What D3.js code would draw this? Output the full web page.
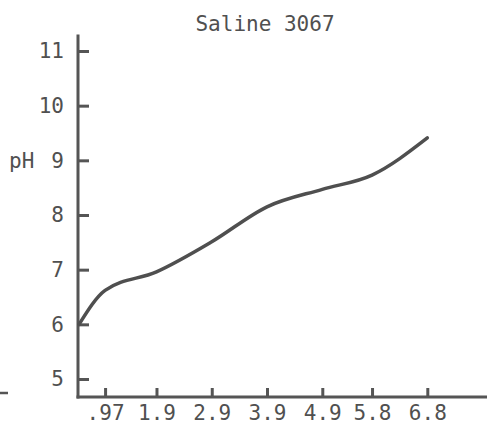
<!DOCTYPE html>
<html>
<head>
<meta charset="utf-8">
<script src="https://cdn.jsdelivr.net/npm/d3@7"></script>
<style>
  html, body { margin: 0; padding: 0; background: #ffffff; }
  svg { display: block; }
  text { font-family: "DejaVu Sans Mono", monospace; fill: #505050; }
</style>
</head>
<body>
<svg id="chart" width="487" height="429"></svg>
<script>
// Titration curve: pH against volume added
const title = "Saline 3067";
const volume = [0.5, 0.97, 1.9, 2.9, 3.9, 4.9, 5.8, 6.8];
const pH = [6.0, 6.62, 6.96, 7.51, 8.15, 8.47, 8.73, 9.41];
const xTicks = [0.97, 1.9, 2.9, 3.9, 4.9, 5.8, 6.8];
const xTickLabels = [".97", "1.9", "2.9", "3.9", "4.9", "5.8", "6.8"];
const yTicks = [5, 6, 7, 8, 9, 10, 11];

const svg = d3.select("#chart");
const ink = "#555555";
const font = "'DejaVu Sans Mono', monospace";

const x = d3.scaleLinear().domain([0.48, 7.88]).range([78, 487]);
const y = d3.scaleLinear().domain([5, 11]).range([379, 51]);

// Title
svg.append("text")
  .attr("x", 265).attr("y", 31)
  .attr("text-anchor", "middle")
  .attr("font-size", 21)
  .text(title);

// Y axis: ticks point inward, labels on the left
const yAxis = d3.axisLeft(y)
  .tickValues(yTicks)
  .tickSize(-10)
  .tickPadding(15)
  .tickFormat(d3.format("d"));
const gy = svg.append("g").attr("transform", `translate(${x(0.48) + 1},0)`).call(yAxis);
gy.select(".domain").remove();
gy.selectAll(".tick line").attr("stroke", ink).attr("stroke-width", 3);
gy.selectAll(".tick text").attr("font-size", 21).attr("fill", "#505050")
  .attr("font-family", font);

// "pH" label beside the 9 tick
svg.append("text")
  .attr("x", 9).attr("y", y(9))
  .attr("dy", "0.36em")
  .attr("font-size", 21)
  .text("pH");

// X axis: short upward ticks
const yBase = 397;
const xAxis = d3.axisBottom(x)
  .tickValues(xTicks)
  .tickSize(-9)
  .tickPadding(8)
  .tickFormat((d, i) => xTickLabels[i]);
const gx = svg.append("g").attr("transform", `translate(0,${yBase})`).call(xAxis);
gx.select(".domain").remove();
gx.selectAll(".tick line").attr("stroke", ink).attr("stroke-width", 3);
gx.selectAll(".tick text").attr("font-size", 21).attr("fill", "#505050")
  .attr("font-family", font);

// Axis lines
svg.append("line")
  .attr("x1", x(0.48)).attr("x2", x(0.48))
  .attr("y1", y(11.3)).attr("y2", yBase + 1.5)
  .attr("stroke", ink).attr("stroke-width", 3);
svg.append("line")
  .attr("x1", x(0.48) - 1.5).attr("x2", x(7.88))
  .attr("y1", yBase).attr("y2", yBase)
  .attr("stroke", ink).attr("stroke-width", 3);

// Stray dash at the left margin
svg.append("line")
  .attr("x1", 0).attr("x2", 8)
  .attr("y1", 393).attr("y2", 393)
  .attr("stroke", ink).attr("stroke-width", 2.5);

// The curve
const line = d3.line()
  .x((d, i) => x(volume[i]))
  .y(d => y(d))
  .curve(d3.curveMonotoneX);

svg.append("path")
  .datum(pH)
  .attr("d", line)
  .attr("fill", "none")
  .attr("stroke", "#4f4f4f")
  .attr("stroke-width", 3.5)
  .attr("stroke-linecap", "round");
</script>
</body>
</html>
